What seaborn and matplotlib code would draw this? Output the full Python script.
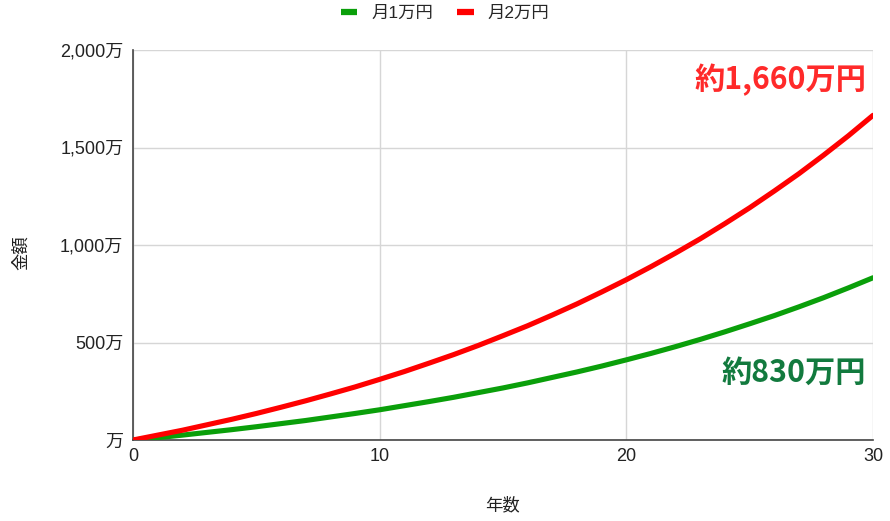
import numpy as np
import pandas as pd
import matplotlib
matplotlib.use("Agg")
import matplotlib.pyplot as plt
from matplotlib.lines import Line2D
import seaborn as sns

# 積立額の推移（万円）: 0〜30年、グラフから読み取り
years = list(range(0, 31))
man1 = [0, 12, 25, 39, 53, 68, 84, 100, 118, 136, 155,
        176, 197, 219, 243, 267, 293, 321, 349, 379, 411,
        444, 479, 516, 555, 596, 638, 683, 730, 780, 832]
man2 = [0, 25, 50, 78, 106, 136, 168, 201, 236, 272, 311,
        351, 394, 438, 485, 535, 586, 641, 698, 759, 822,
        889, 959, 1032, 1110, 1191, 1277, 1366, 1461, 1560, 1665]
series_names = ["月1万円", "月2万円"]
colors = ["#0a9f0a", "#ff0000"]
yticks = [0, 500, 1000, 1500, 2000]
ytick_labels = ["万", "500万", "1,000万", "1,500万", "2,000万"]
xticks = [0, 10, 20, 30]
notes = ["約830万円", "約1,660万円"]
note_colors = ["#127a3e", "#ff2a2a"]

df = pd.DataFrame({
    "年数": years * 2,
    "金額": man1 + man2,
    "系列": [series_names[0]] * len(years) + [series_names[1]] * len(years),
})

sns.set_theme(style="white")
plt.rcParams["font.family"] = ["Liberation Sans", "Noto Sans CJK JP", "DejaVu Sans"]

W, H = 890, 521
fig = plt.figure(figsize=(W / 100, H / 100), dpi=100)
ax = fig.add_axes([133 / W, 1 - 440 / H, 740 / W, 390 / H])

sns.lineplot(data=df, x="年数", y="金額", hue="系列", palette=colors,
             linewidth=3.7, ax=ax, legend=False, zorder=3)

ax.set_xlim(0, 30)
ax.set_ylim(0, 2000)
ax.set_xticks(xticks)
ax.set_yticks(yticks)
ax.set_yticklabels(ytick_labels)
ax.tick_params(axis="both", length=0, labelsize=13, colors="#222222")
ax.tick_params(axis="y", pad=7)
ax.tick_params(axis="x", pad=6)
ax.grid(True, color="#d6d6d6", linewidth=1)
for s in ["top", "right"]:
    ax.spines[s].set_visible(False)
for s in ["left", "bottom"]:
    ax.spines[s].set_color("#444444")
    ax.spines[s].set_linewidth(1.2)

ax.set_xlabel("")
ax.set_ylabel("")
fig.text(503 / W, 1 - 505 / H, "年数", ha="center", va="center",
         fontsize=12.5, color="#222222")
fig.text(21 / W, 1 - 253 / H, "金額", ha="center", va="center",
         fontsize=12.5, color="#222222", rotation=90)

# 注記
fig.text(866 / W, 1 - 373 / H, notes[0], ha="right", va="center",
         color=note_colors[0], fontsize=21.8, fontweight="bold",
         family=["Noto Sans CJK JP"])
fig.text(866 / W, 1 - 80 / H, notes[1], ha="right", va="center",
         color=note_colors[1], fontsize=21.8, fontweight="bold",
         family=["Noto Sans CJK JP"])

# 凡例
handles = [Line2D([], [], color=c, lw=4.5, solid_capstyle="butt") for c in colors]
fig.legend(handles, series_names, loc="center", bbox_to_anchor=(445 / W, 1 - 13 / H),
           ncol=2, frameon=False, fontsize=12.5, handlelength=0.95,
           columnspacing=1.4, handletextpad=0.8, borderpad=0, borderaxespad=0)

fig.savefig("out.png", dpi=100)
